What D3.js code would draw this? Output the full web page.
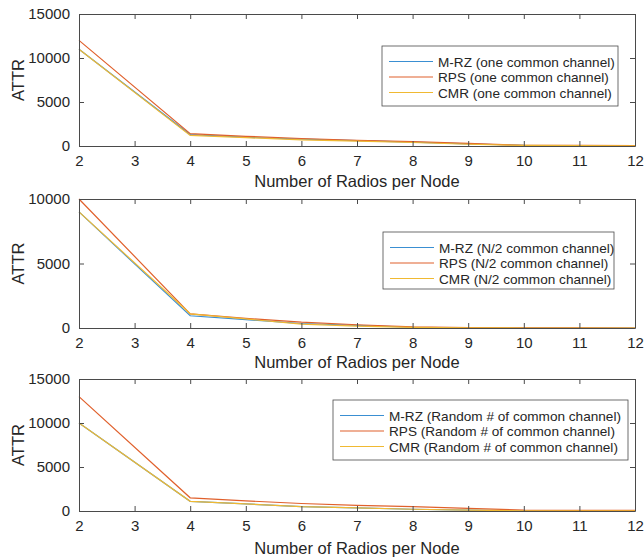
<!DOCTYPE html>
<html>
<head>
<meta charset="utf-8">
<script src="https://cdnjs.cloudflare.com/ajax/libs/d3/7.8.5/d3.min.js"></script>
<style>
  body { margin: 0; background: #fff; }
  svg { display: block; font-family: "Liberation Sans", Arial, sans-serif; }
</style>
</head>
<body>
<svg width="644" height="558"></svg>
<script>
// x values shared by all three panels
var radios = [2, 3, 4, 5, 6, 7, 8, 9, 10, 11, 12];
var xTicks = [2, 3, 4, 5, 6, 7, 8, 9, 10, 11, 12];

// panel 1: one common channel
var mrzOne = [11000, null, 1300, 1000, 780, 600, 450, 250, 70, 50, 40];
var rpsOne = [12000, null, 1400, 1100, 850, 650, 500, 300, 80, 60, 50];
var cmrOne = [11000, null, 1200, 950, 700, 550, 400, 200, 60, 40, 30];

// panel 2: N/2 common channel
var mrzHalf = [9000, null, 950, 650, 350, 200, 60, 30, 0, 0, 0];
var rpsHalf = [10000, null, 1100, 750, 450, 250, 80, 40, 10, 5, 0];
var cmrHalf = [9000, null, 1100, 700, 300, 150, 50, 20, 0, 0, 0];

// panel 3: random # of common channel
var mrzRand = [10000, null, 1100, 800, 500, 350, 200, 100, 30, 20, 10];
var rpsRand = [13000, null, 1500, 1150, 850, 650, 500, 300, 100, 80, 60];
var cmrRand = [10000, null, 1100, 800, 500, 350, 200, 100, 30, 20, 10];

var seriesNames = ["M-RZ", "RPS", "CMR"];
var colors = ["#3a8fd2", "#e0602c", "#f0b932"];

var panels = [
  { top: 14, bottom: 146, yMax: 15000, yTicks: [0, 5000, 10000, 15000],
    series: [mrzOne, rpsOne, cmrOne], suffix: " (one common channel)",
    legend: { x: 382, y: 46, w: 236, h: 60 }, titleY: 187 },
  { top: 199, bottom: 328, yMax: 10000, yTicks: [0, 5000, 10000],
    series: [mrzHalf, rpsHalf, cmrHalf], suffix: " (N/2 common channel)",
    legend: { x: 383, y: 232, w: 231, h: 57 }, titleY: 368 },
  { top: 379, bottom: 511, yMax: 15000, yTicks: [0, 5000, 10000, 15000],
    series: [mrzRand, rpsRand, cmrRand], suffix: " (Random # of common channel)",
    legend: { x: 333, y: 400, w: 295, h: 60 }, titleY: 554 }
];

var svg = d3.select("svg"),
  left = 79,
  right = 635,
  axisColor = "#4a4a4a",
  textColor = "#262626";

var xScale = d3.scaleLinear().domain([2, 12]).range([left, right]);

panels.forEach(function (p) {
  var yScale = d3.scaleLinear().domain([0, p.yMax]).range([p.bottom, p.top]);
  var g = svg.append("g");

  // ===========================================================================
  // LINES
  // ===========================================================================
  p.series.forEach(function (vals, k) {
    var pts = radios.map((r, i) => [r, vals[i]]).filter((d) => d[1] !== null);
    g.append("path")
      .datum(pts)
      .attr("fill", "none")
      .attr("stroke", colors[k])
      .attr("stroke-width", 1.2)
      .attr("d", d3.line().x((d) => xScale(d[0])).y((d) => yScale(d[1])));
  });

  // ===========================================================================
  // AXES (box with ticks on all four sides)
  // ===========================================================================
  g.append("g")
    .attr("transform", "translate(0," + p.bottom + ")")
    .call(d3.axisBottom(xScale).tickValues(xTicks).tickSizeInner(-5).tickSizeOuter(0).tickPadding(9));
  g.append("g")
    .attr("transform", "translate(0," + p.top + ")")
    .call(d3.axisTop(xScale).tickValues(xTicks).tickSizeInner(-5).tickSizeOuter(0).tickFormat(""));
  g.append("g")
    .attr("transform", "translate(" + left + ",0)")
    .call(d3.axisLeft(yScale).tickValues(p.yTicks).tickSizeInner(-5).tickSizeOuter(0).tickPadding(9).tickFormat(d3.format("d")));
  g.append("g")
    .attr("transform", "translate(" + right + ",0)")
    .call(d3.axisRight(yScale).tickValues(p.yTicks).tickSizeInner(-5).tickSizeOuter(0).tickFormat(""));

  g.selectAll(".domain").attr("stroke", axisColor);
  g.selectAll(".tick line").attr("stroke", axisColor);
  g.selectAll(".tick text")
    .attr("fill", textColor)
    .style("font-size", "15px")
    .style("font-family", "Liberation Sans, Arial, sans-serif");

  // ===========================================================================
  // LABELS
  // ===========================================================================
  g.append("text")
    .attr("x", (left + right) / 2)
    .attr("y", p.titleY)
    .attr("text-anchor", "middle")
    .attr("fill", textColor)
    .style("font-size", "16.5px")
    .text("Number of Radios per Node");

  g.append("text")
    .attr("transform", "translate(24," + (p.top + p.bottom) / 2 + ") rotate(-90)")
    .attr("text-anchor", "middle")
    .attr("fill", textColor)
    .style("font-size", "16.5px")
    .text("ATTR");

  // ===========================================================================
  // LEGEND
  // ===========================================================================
  var lg = g.append("g").attr("transform", "translate(" + p.legend.x + "," + p.legend.y + ")");
  lg.append("rect")
    .attr("width", p.legend.w)
    .attr("height", p.legend.h)
    .attr("fill", "#fff")
    .attr("stroke", axisColor)
    .attr("stroke-width", 0.8);
  seriesNames.forEach(function (name, k) {
    var yy = 15.5 + k * 15.5;
    lg.append("line")
      .attr("x1", 7).attr("x2", 51)
      .attr("y1", yy).attr("y2", yy)
      .attr("stroke", colors[k])
      .attr("stroke-width", 1.2);
    lg.append("text")
      .attr("x", 56)
      .attr("y", yy + 5)
      .attr("fill", textColor)
      .style("font-size", "13.6px")
      .text(name + p.suffix);
  });
});
</script>
</body>
</html>
